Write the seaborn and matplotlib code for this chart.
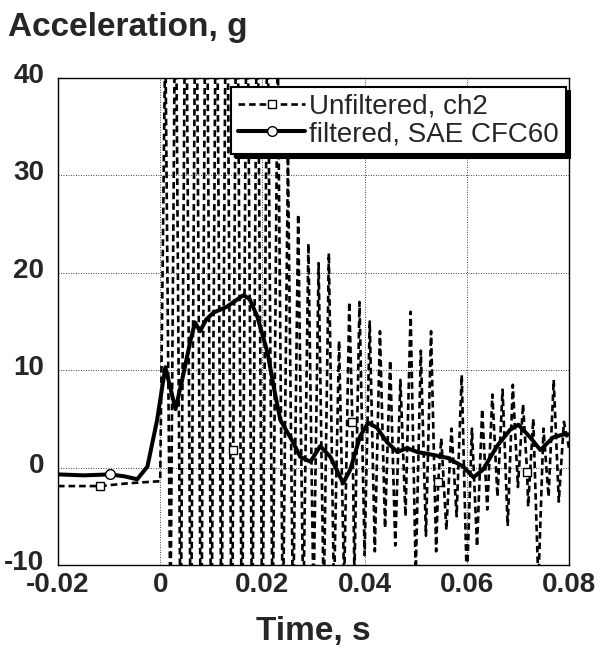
import numpy as np
import pandas as pd
import matplotlib
matplotlib.use('Agg')
import matplotlib.pyplot as plt
import matplotlib.transforms as mtransforms
import seaborn as sns

# unfiltered channel: flat pre-trigger part, then peaks / troughs every 1 ms
t_pre = [-0.020, -0.0118, -0.006]
g_pre = [-1.9, -1.9, -1.6]
trough_g = [-1.4, -16, -20, -22, -24, -22, -20, -24, -22, -20, -20, -18, -17, -16,
            -15, -14, -14, -13, -12, -11, -9, -8.6, -6.2, -8, -5, -11, -7, -8.6,
            -6.4, -5, -12, -8.1, -4.3, -3, -6, -2, -4, -12, -3, -3.5, 2]
peak_g = [45, 55, 60, 62, 65, 60, 64, 62, 58, 55, 50, 44, 32, 26, 23, 21, 22,
          13, 17, 17, 15, 14, 11, 9, 16, 12, 14, 3, 4, 9.5, 4, 6, 7.5, 8, 8.5,
          6.5, 5, 4, 9, 4.7]
# visible square markers on the unfiltered trace
raw_mark_t = [0.0143, 0.0376, 0.0544, 0.0718]
raw_mark_g = [1.8, 4.7, -1.5, -0.5]

# filtered, SAE CFC60
filt_t = [-0.020, -0.015, -0.0098, -0.007, -0.0045, -0.0025, -0.0006, 0.0010,
          0.0030, 0.0045, 0.0059, 0.0068, 0.0078, 0.0090, 0.0104, 0.0130, 0.0163,
          0.0175, 0.0190, 0.0210, 0.0225, 0.0235, 0.0260, 0.0274, 0.0294, 0.0313,
          0.0333, 0.0358, 0.0372, 0.0391, 0.0407, 0.0424, 0.0444, 0.0464, 0.0483,
          0.0503, 0.0534, 0.0562, 0.0593, 0.0613, 0.0632, 0.0659, 0.0685, 0.0701,
          0.0724, 0.0744, 0.0769, 0.0789, 0.0800]
filt_g = [-0.7, -0.8, -0.7, -0.9, -1.2, 0.1, 4.9, 10.3, 6.0, 9.5, 13.0, 14.9, 14.0,
          15.2, 15.9, 16.5, 17.7, 17.3, 15.5, 11.8, 7.5, 4.9, 2.6, 1.1, 0.6, 2.2,
          1.1, -1.6, -0.2, 3.2, 4.6, 4.1, 2.6, 1.6, 2.0, 1.6, 1.3, 1.0, 0.1, -1.0,
          -0.2, 2.2, 3.9, 4.4, 3.1, 1.8, 3.1, 3.4, 3.4]
filt_mark_t = [-0.0098]

x_ticks = [-0.02, 0, 0.02, 0.04, 0.06, 0.08]
x_labels = ['-0.02', '0', '0.02', '0.04', '0.06', '0.08']
y_ticks = [-10, 0, 10, 20, 30, 40]
y_labels = ['-10', '0', '10', '20', '30', '40']

# assemble unfiltered series
grid_t = np.round(np.arange(len(trough_g) + len(peak_g)) * 0.001, 4)
grid_g = np.empty(len(grid_t))
grid_g[0::2] = trough_g
grid_g[1::2] = peak_g
raw = pd.DataFrame({'t': np.concatenate([t_pre, grid_t, raw_mark_t]),
                    'g': np.concatenate([g_pre, grid_g, raw_mark_g])})
raw = raw.sort_values('t').reset_index(drop=True)
raw_marks = list(np.where(raw['t'].isin([t_pre[1]] + raw_mark_t))[0])

filt = pd.DataFrame({'t': filt_t, 'g': filt_g})
filt_marks = list(np.where(filt['t'].isin(filt_mark_t))[0])

sns.set_style('white')
plt.rcParams['font.family'] = ['Liberation Sans', 'DejaVu Sans']
plt.rcParams['axes.unicode_minus'] = False

fig = plt.figure(figsize=(6.01, 6.53), dpi=100)
ax = fig.add_axes([0.0965, 0.1348, 0.8503, 0.7458])

sns.lineplot(data=raw, x='t', y='g', ax=ax, color='black', lw=1.9,
             linestyle=(0, (2.5, 1.5)), marker='s', markevery=raw_marks, ms=6,
             mfc='white', mec='black', mew=1.0, label='Unfiltered, ch2',
             estimator=None, sort=False)
sns.lineplot(data=filt, x='t', y='g', ax=ax, color='black', lw=2.9,
             marker='o', markevery=filt_marks, ms=7, mfc='white', mec='black',
             mew=1.0, label='filtered, SAE CFC60', estimator=None, sort=False)

ax.set_xlim(-0.02, 0.08)
ax.set_ylim(-10, 40)
ax.set_xticks(x_ticks)
ax.set_xticklabels(x_labels)
ax.set_yticks(y_ticks)
ax.set_yticklabels(y_labels)
ax.grid(True, color='black', linestyle=(0, (1, 2)), linewidth=0.6)
ax.tick_params(length=0, labelsize=20)
ax.tick_params(axis='y', pad=10)
ax.tick_params(axis='x', pad=5)
for lab in ax.get_xticklabels() + ax.get_yticklabels():
    lab.set_fontweight('bold')
for lab in ax.get_yticklabels():
    lab.set_transform(lab.get_transform() +
                      mtransforms.ScaledTranslation(0, 5 / 100, fig.dpi_scale_trans))
for sp in ax.spines.values():
    sp.set_color('black')
    sp.set_linewidth(1.0)
ax.set_xlabel('')
ax.set_ylabel('')

leg = ax.legend(loc='upper right', bbox_to_anchor=(0.994, 0.982), borderaxespad=0,
                fontsize=20, fancybox=False, framealpha=1, edgecolor='black',
                handlelength=2.4, handletextpad=0.15, labelspacing=0.05,
                borderpad=0.25, shadow={'color': 'black', 'alpha': 1, 'ox': 3, 'oy': -3})
leg.get_frame().set_linewidth(1.5)

fig.text(0.013, 1 - 36 / 653, 'Acceleration, g', fontsize=24, fontweight='bold',
         ha='left', va='baseline')
fig.text(313 / 601, 1 - 640 / 653, 'Time, s', fontsize=24, fontweight='bold',
         ha='center', va='baseline')

fig.savefig('out.png', dpi=100)
